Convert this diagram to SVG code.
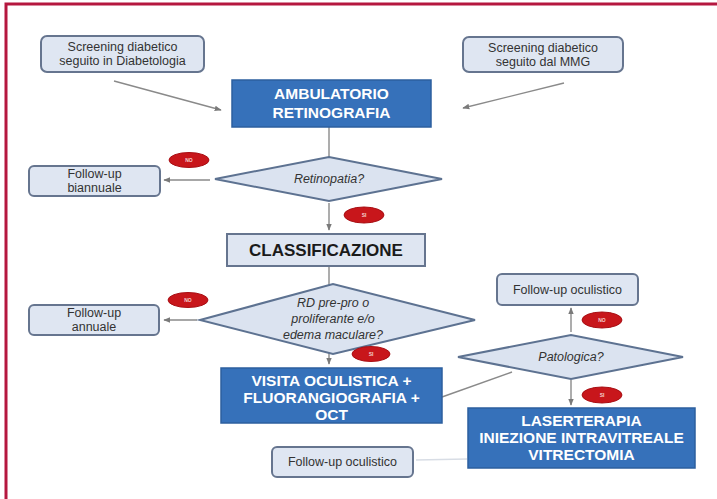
<svg xmlns="http://www.w3.org/2000/svg" width="717" height="499" viewBox="0 0 717 499">
  <style>
    .soft { fill: #dfe6f2; stroke: #66758f; stroke-width: 2; }
    .blue { fill: #3671ba; stroke: #2c5f9e; stroke-width: 1.5; }
    .dia { fill: #dbe3f0; stroke: #5d7291; stroke-width: 2; }
    .pill { fill: #c8161b; stroke: #a80f14; stroke-width: 1; }
    .small { font-family: "Liberation Sans", Arial, sans-serif; font-size: 12.5px; fill: #333; text-anchor: middle; }
    .big { font-family: "Liberation Sans", Arial, sans-serif; font-size: 15.5px; font-weight: bold; fill: #fff; text-anchor: middle; }
    .ital { font-family: "Liberation Sans", Arial, sans-serif; font-size: 12.5px; font-style: italic; fill: #333; text-anchor: middle; }
    .pilltxt { font-family: "Liberation Sans", Arial, sans-serif; font-size: 5px; font-weight: bold; fill: #f4d0d0; text-anchor: middle; }
    .conn { stroke: #8a8a8a; stroke-width: 1.4; fill: none; }
  </style>
  <defs>
    <marker id="arr" viewBox="0 0 10 10" refX="9" refY="5" markerWidth="5" markerHeight="5" orient="auto">
      <path d="M0,1 L10,5 L0,9 z" fill="#7a7a7a"/>
    </marker>
  </defs>

  <rect width="717" height="499" fill="#ffffff"/>
  <!-- frame -->
  <path d="M6,499 V4 H717" fill="none" stroke="#b5173f" stroke-width="3"/>

  <g id="connectors">
    <line class="conn" x1="114" y1="81" x2="221" y2="110" marker-end="url(#arr)"/>
    <line class="conn" x1="564" y1="83" x2="463" y2="108" marker-end="url(#arr)"/>
    <line class="conn" x1="329" y1="127" x2="329" y2="157"/>
    <line class="conn" x1="210" y1="180" x2="164" y2="180" marker-end="url(#arr)"/>
    <line class="conn" x1="329" y1="203" x2="329" y2="230" marker-end="url(#arr)"/>
    <line class="conn" x1="329" y1="266" x2="329" y2="285"/>
    <line class="conn" x1="197" y1="320" x2="164" y2="320" marker-end="url(#arr)"/>
    <line class="conn" x1="329" y1="353" x2="329" y2="364" marker-end="url(#arr)"/>
    <line class="conn" x1="442" y1="397" x2="512" y2="372"/>
    <line class="conn" x1="571" y1="332" x2="571" y2="308" marker-end="url(#arr)"/>
    <line class="conn" x1="571" y1="380" x2="571" y2="405" marker-end="url(#arr)"/>
    <line x1="467" y1="459" x2="416" y2="460" stroke="#d8dde5" stroke-width="1.4"/>
  </g>

  <g id="screening-diabetologia">
    <rect class="soft" x="41" y="36" width="163" height="36" rx="6"/>
    <text class="small" x="122.5" y="51">Screening diabetico</text>
    <text class="small" x="122.5" y="65">seguito in Diabetologia</text>
  </g>

  <g id="screening-mmg">
    <rect class="soft" x="463" y="37" width="160" height="35" rx="6"/>
    <text class="small" x="543" y="52">Screening diabetico</text>
    <text class="small" x="543" y="66">seguito dal MMG</text>
  </g>

  <g id="ambulatorio">
    <rect class="blue" x="232" y="80" width="199" height="47"/>
    <text class="big" x="331.5" y="99" font-size="17">AMBULATORIO</text>
    <text class="big" x="331.5" y="118" font-size="17">RETINOGRAFIA</text>
  </g>

  <g id="retinopatia">
    <polygon class="dia" points="215,179 329,157 442,179 329,201"/>
    <text class="ital" x="329" y="183">Retinopatia?</text>
  </g>

  <g id="followup-biannuale">
    <rect class="soft" x="29" y="166" width="131" height="30" rx="5"/>
    <text class="small" x="94.5" y="178">Follow-up</text>
    <text class="small" x="94.5" y="192">biannuale</text>
  </g>

  <g id="no-1">
    <ellipse class="pill" cx="189" cy="160" rx="20" ry="7.5"/>
    <text class="pilltxt" x="189" y="162">NO</text>
  </g>

  <g id="si-1">
    <ellipse class="pill" cx="364" cy="215" rx="20" ry="8"/>
    <text class="pilltxt" x="364" y="217">SI</text>
  </g>

  <g id="classificazione">
    <rect class="soft" x="227" y="234" width="198" height="32"/>
    <text x="326" y="256" font-family="Liberation Sans, Arial, sans-serif" font-size="17" font-weight="bold" fill="#1a1a1a" text-anchor="middle">CLASSIFICAZIONE</text>
  </g>

  <g id="rd-diamond">
    <polygon class="dia" points="200,320 333,284 475,320 333,354"/>
    <text class="ital" x="333" y="307">RD pre-pro o</text>
    <text class="ital" x="333" y="323">proliferante e/o</text>
    <text class="ital" x="333" y="339">edema maculare?</text>
  </g>

  <g id="followup-annuale">
    <rect class="soft" x="29" y="305" width="130" height="30" rx="5"/>
    <text class="small" x="94" y="317">Follow-up</text>
    <text class="small" x="94" y="331">annuale</text>
  </g>

  <g id="no-2">
    <ellipse class="pill" cx="188" cy="300" rx="20" ry="7.5"/>
    <text class="pilltxt" x="188" y="302">NO</text>
  </g>

  <g id="si-2">
    <ellipse class="pill" cx="371" cy="354" rx="19" ry="7.5"/>
    <text class="pilltxt" x="371" y="356">SI</text>
  </g>

  <g id="visita">
    <rect class="blue" x="221" y="368" width="221" height="55"/>
    <text class="big" x="331.5" y="386">VISITA OCULISTICA +</text>
    <text class="big" x="331.5" y="403">FLUORANGIOGRAFIA +</text>
    <text class="big" x="331.5" y="420">OCT</text>
  </g>

  <g id="patologica">
    <polygon class="dia" points="458,357 571,335 683,357 571,379"/>
    <text class="ital" x="571" y="361">Patologica?</text>
  </g>

  <g id="followup-oculistico-top">
    <rect class="soft" x="497" y="274" width="141" height="31" rx="5"/>
    <text class="small" x="567.5" y="294">Follow-up oculistico</text>
  </g>

  <g id="no-3">
    <ellipse class="pill" cx="602" cy="320" rx="20" ry="8"/>
    <text class="pilltxt" x="602" y="322">NO</text>
  </g>

  <g id="si-3">
    <ellipse class="pill" cx="602" cy="395" rx="20" ry="8"/>
    <text class="pilltxt" x="602" y="397">SI</text>
  </g>

  <g id="laserterapia">
    <rect class="blue" x="468" y="408" width="227" height="60"/>
    <text class="big" x="581.5" y="426">LASERTERAPIA</text>
    <text class="big" x="581.5" y="443">INIEZIONE INTRAVITREALE</text>
    <text class="big" x="581.5" y="460">VITRECTOMIA</text>
  </g>

  <g id="followup-oculistico-bottom">
    <rect class="soft" x="272" y="447" width="141" height="30" rx="5"/>
    <text class="small" x="342.5" y="466">Follow-up oculistico</text>
  </g>
</svg>
